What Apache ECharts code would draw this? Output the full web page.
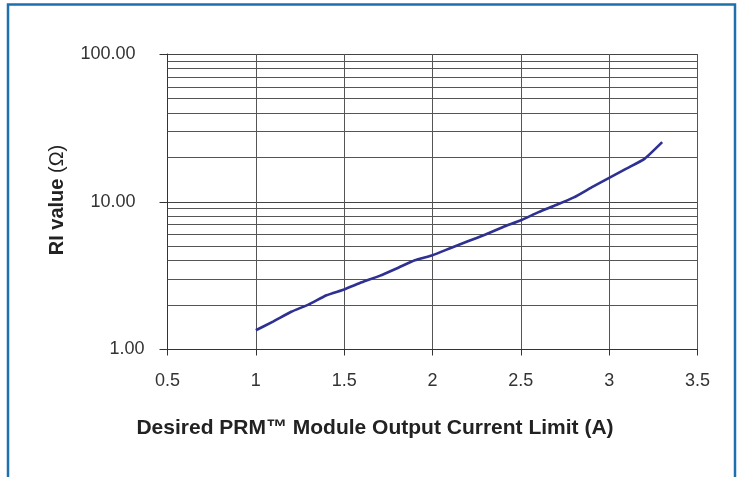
<!DOCTYPE html>
<html>
<head>
<meta charset="utf-8">
<script src="https://cdn.jsdelivr.net/npm/echarts@6/dist/echarts.min.js"></script>
<style>
  html, body { margin: 0; padding: 0; background: #fff; }
  #chart { width: 743px; height: 477px; }
</style>
</head>
<body>
<div id="chart"></div>
<script>
// Current limit (A) versus required RI resistance (ohms)
const currentA = [1.0, 1.1, 1.2, 1.3, 1.4, 1.5, 1.6, 1.7, 1.8, 1.9, 2.0, 2.1, 2.2, 2.3, 2.4, 2.5, 2.6, 2.7, 2.8, 2.9, 3.0, 3.1, 3.2, 3.3];
const riOhms = [1.35, 1.55, 1.80, 2.02, 2.33, 2.55, 2.85, 3.15, 3.55, 4.02, 4.35, 4.85, 5.4, 6.0, 6.75, 7.5, 8.5, 9.5, 10.7, 12.5, 14.5, 16.8, 19.5, 25.3];
// Intermediate log grid lines between decades
const minorGrid = [2, 3, 4, 5, 6, 7, 8, 9, 20, 30, 40, 50, 60, 70, 80, 90];
const xTitle = 'Desired PRM\u2122 Module Output Current Limit (A)';
const yTitleMain = 'RI value ';
const yTitleUnit = '(\u03A9)';

const font = 'Arial, "Liberation Sans", Helvetica, sans-serif';
const chart = echarts.init(document.getElementById('chart'), null, { renderer: 'canvas' });

chart.setOption({
  animation: false,
  backgroundColor: '#ffffff',
  grid: { left: 167.5, right: 45.5, top: 54, bottom: 127.5 },
  xAxis: {
    type: 'value', min: 0.5, max: 3.5, interval: 0.5,
    axisLine: { show: true, lineStyle: { color: '#333', width: 1 } },
    axisTick: { show: true, length: 6, lineStyle: { color: '#333' } },
    axisLabel: { color: '#333', fontFamily: font, fontSize: 18, margin: 23 },
    splitLine: { show: true, lineStyle: { color: '#555', width: 1 } }
  },
  yAxis: {
    type: 'log', logBase: 10, min: 1, max: 100,
    axisLine: { show: true, lineStyle: { color: '#333', width: 1 } },
    axisTick: { show: true, length: 8, inside: false, lineStyle: { color: '#333' } },
    axisLabel: {
      color: '#333', fontFamily: font, fontSize: 18, margin: 23,
      formatter: v => (v >= 10 ? '{w|' : '{n|') + Number(v).toFixed(2) + '}',
      rich: {
        w: { fontFamily: font, fontSize: 18, color: '#333', padding: [0, 9, 0, 0] },
        n: { fontFamily: font, fontSize: 18, color: '#333' }
      }
    },
    splitLine: { show: true, lineStyle: { color: '#444', width: 1 } },
    minorTick: { show: false },
    minorSplitLine: { show: false }
  },
  graphic: [
    {
      type: 'rect', silent: true, z: 100,
      shape: { x: 8, y: 4.5, width: 727, height: 500 },
      style: { fill: 'none', stroke: '#1d6fae', lineWidth: 2.5 }
    },
    {
      type: 'text', z: 100,
      x: 375, y: 428,
      style: {
        text: xTitle, x: 0, y: 0, align: 'center', verticalAlign: 'middle',
        font: 'bold 21px ' + font, fill: '#222'
      }
    },
    {
      type: 'text', z: 100,
      x: 57, y: 200, rotation: Math.PI / 2,
      style: {
        text: '{b|' + yTitleMain + '}{r|' + yTitleUnit + '}',
        x: 0, y: 0, align: 'center', verticalAlign: 'middle',
        rich: {
          b: { font: 'bold 20px ' + font, fill: '#222' },
          r: { font: '20px ' + font, fill: '#222' }
        }
      }
    }
  ],
  series: [
    {
      type: 'line',
      data: currentA.map((x, i) => [x, riOhms[i]]),
      showSymbol: false,
      smooth: 0.15,
      lineStyle: { color: '#2e3192', width: 2.6 },
      z: 5,
      markLine: {
        silent: true,
        symbol: 'none',
        label: { show: false },
        lineStyle: { color: '#555', width: 1, type: 'solid' },
        data: minorGrid.map(v => ({ yAxis: v }))
      }
    }
  ]
});
</script>
</body>
</html>
